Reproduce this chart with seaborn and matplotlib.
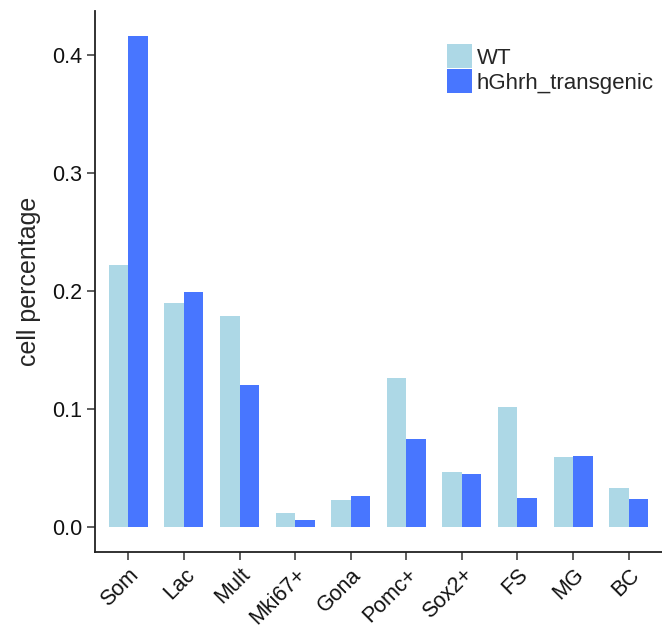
import matplotlib
matplotlib.use("Agg")
import matplotlib.pyplot as plt
import seaborn as sns
import pandas as pd

categories = ["Som", "Lac", "Mult", "Mki67+", "Gona", "Pomc+", "Sox2+", "FS", "MG", "BC"]
wt_values = [0.222, 0.190, 0.179, 0.012, 0.023, 0.126, 0.047, 0.102, 0.059, 0.033]
tg_values = [0.416, 0.199, 0.120, 0.006, 0.026, 0.075, 0.045, 0.025, 0.060, 0.024]
groups = ["WT", "hGhrh_transgenic"]
colors = ["#ADD8E6", "#4876FF"]

df = pd.DataFrame({
    "cell": categories * 2,
    "value": wt_values + tg_values,
    "group": [groups[0]] * len(categories) + [groups[1]] * len(categories),
})

sns.set_style("white")
plt.rcParams["font.family"] = ["Liberation Sans", "DejaVu Sans"]

fig = plt.figure(figsize=(6.62, 6.30), dpi=100)
ax = fig.add_axes([0.1435, 0.1243, 0.8565, 0.8582])

sns.barplot(data=df, x="cell", y="value", hue="group", order=categories,
            hue_order=groups, palette=colors, width=0.7, linewidth=0,
            errorbar=None, ax=ax, saturation=1)

ymax = max(wt_values + tg_values)
ax.set_ylim(-0.05 * ymax, ymax * 1.05)
ax.set_xlim(-0.6, len(categories) - 0.4)
ax.set_yticks([0.0, 0.1, 0.2, 0.3, 0.4])
ax.set_yticklabels(["0.0", "0.1", "0.2", "0.3", "0.4"])

for side in ["top", "right"]:
    ax.spines[side].set_visible(False)
for side in ["left", "bottom"]:
    ax.spines[side].set_color("#222222")
    ax.spines[side].set_linewidth(1.3)

ax.tick_params(axis="both", which="both", length=6, width=1.1, color="#333333",
               labelsize=15.5, labelcolor="#111111", direction="out", pad=3)
ax.tick_params(axis="x", bottom=True)
ax.tick_params(axis="y", left=True)
for lab in ax.get_xticklabels():
    lab.set_rotation(45)
    lab.set_ha("right")
    lab.set_rotation_mode("anchor")

ax.set_xlabel("")
ax.set_ylabel("cell percentage", fontsize=18, labelpad=8)

leg = ax.legend(loc="upper left", bbox_to_anchor=(0.621, 0.939), frameon=False,
                fontsize=16, handlelength=1.13, handleheight=1.3,
                handletextpad=0.2, labelspacing=0.02, borderaxespad=0, borderpad=0)

fig.savefig("out.png", dpi=100)
